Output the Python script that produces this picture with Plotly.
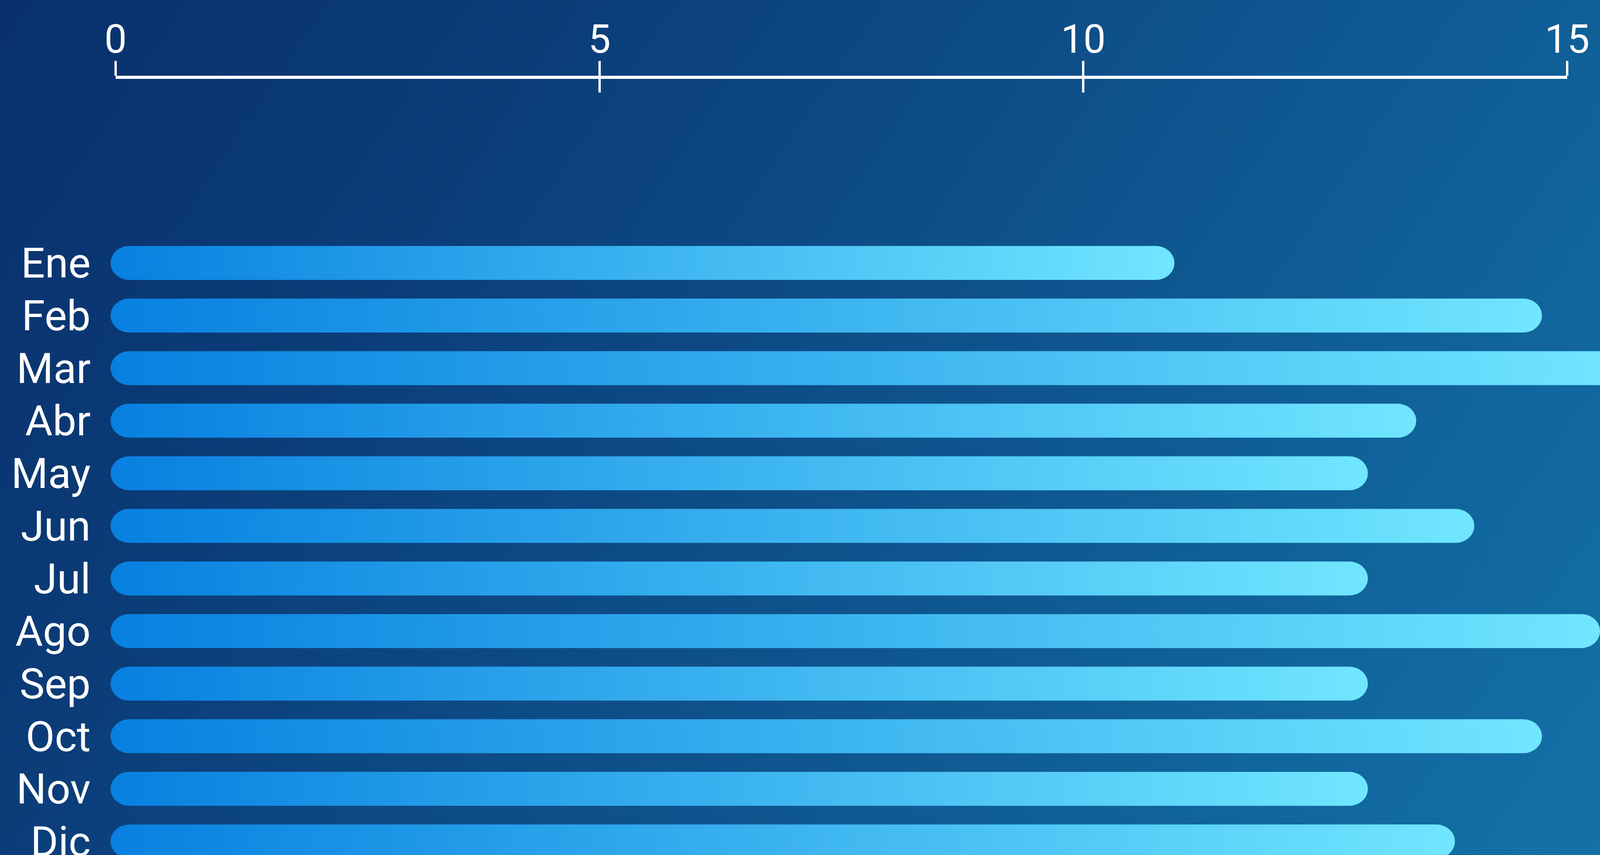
import base64
import numpy as np
import plotly.graph_objects as go

# ---------------- data ----------------
months = ["Ene", "Feb", "Mar", "Abr", "May", "Jun", "Jul", "Ago", "Sep", "Oct", "Nov", "Dic"]
values = [11, 14.8, 15.6, 13.5, 13, 14.1, 13, 15.4, 13, 14.8, 13, 13.9]
axis_ticks = [0, 5, 10, 15]

# ---------------- geometry / style ----------------
W, H = 4105, 2190
PX_PER_UNIT = 247.6          # horizontal pixels per value unit
BAR_ZERO_PX = 283            # pixel where the bars start
AXIS_ZERO_PX = 296           # pixel of tick "0" on the top axis
AXIS_END_PX = 4012           # pixel of tick "15"
AXIS_LINE_PX = 198           # vertical pixel of the top axis line
ROW_PITCH_PX = 134.7
FIRST_ROW_PX = 673.5
BAR_HEIGHT_PX = 87
CAP_RX_PX = 48

LABEL_FONT = "Roboto"
BAR_COLORS = [[0.0, "#0780e0"], [1.0, "#70e6ff"]]

y_top = -FIRST_ROW_PX / ROW_PITCH_PX
y_bottom = (H - FIRST_ROW_PX) / ROW_PITCH_PX
half_h = BAR_HEIGHT_PX / ROW_PITCH_PX / 2
rx = CAP_RX_PX / PX_PER_UNIT


def capsule(v, yc):
    t1 = np.linspace(np.pi / 2, 3 * np.pi / 2, 48)
    t2 = np.linspace(-np.pi / 2, np.pi / 2, 48)
    xs = np.concatenate([rx + rx * np.cos(t1), (v - rx) + rx * np.cos(t2)])
    ys = np.concatenate([yc + half_h * np.sin(t1), yc + half_h * np.sin(t2)])
    return np.append(xs, xs[0]), np.append(ys, ys[0])


fig = go.Figure()

for i, (m, v) in enumerate(zip(months, values)):
    xs, ys = capsule(v, i)
    fig.add_trace(go.Scatter(
        x=xs, y=ys, mode="lines", line=dict(width=0),
        fill="toself",
        fillgradient=dict(type="horizontal", colorscale=BAR_COLORS),
        hoverinfo="skip", showlegend=False, name=m,
        xaxis="x", yaxis="y",
    ))

# dummy traces so the decorative top axes are drawn
fig.add_trace(go.Scatter(x=[None], y=[None], xaxis="x2", yaxis="y", showlegend=False, hoverinfo="skip"))
fig.add_trace(go.Scatter(x=[None], y=[None], xaxis="x3", yaxis="y", showlegend=False, hoverinfo="skip"))

# background gradient as an SVG image
svg = (
    f'<svg xmlns="http://www.w3.org/2000/svg" width="{W}" height="{H}" viewBox="0 0 {W} {H}" '
    f'preserveAspectRatio="none"><defs><linearGradient id="g" gradientUnits="userSpaceOnUse" '
    f'x1="0" y1="0" x2="3845" y2="2594">'
    f'<stop offset="0" stop-color="#09306b"/>'
    f'<stop offset="0.26" stop-color="#0b3d79"/>'
    f'<stop offset="0.73" stop-color="#105f98"/>'
    f'<stop offset="1" stop-color="#1372a8"/>'
    f'</linearGradient></defs><rect width="{W}" height="{H}" fill="url(#g)"/></svg>'
)
bg_src = "data:image/svg+xml;base64," + base64.b64encode(svg.encode()).decode()

axis_pos = 1 - AXIS_LINE_PX / H

fig.update_layout(
    template="none",
    width=W, height=H,
    margin=dict(l=0, r=0, t=0, b=0, pad=0, autoexpand=False),
    paper_bgcolor="#0d4a86",
    plot_bgcolor="rgba(0,0,0,0)",
    showlegend=False,
    images=[dict(source=bg_src, xref="paper", yref="paper", x=0, y=1,
                 sizex=1, sizey=1, xanchor="left", yanchor="top",
                 sizing="stretch", layer="below")],
    xaxis=dict(domain=[BAR_ZERO_PX / W, 1], range=[0, (W - BAR_ZERO_PX) / PX_PER_UNIT],
               visible=False, fixedrange=True, automargin=False),
    yaxis=dict(domain=[0, 1], range=[y_bottom, y_top], anchor="x",
               tickmode="array", tickvals=list(range(len(months))), ticktext=months,
               tickfont=dict(family=LABEL_FONT, size=108, color="white"),
               ticks="", showgrid=False, zeroline=False, showline=False,
               ticklabelstandoff=50, ticklabeloverflow="allow", fixedrange=True,
               automargin=False),
    xaxis2=dict(domain=[AXIS_ZERO_PX / W, AXIS_END_PX / W], range=[0, 15],
                anchor="free", position=axis_pos, side="top",
                showline=True, linecolor="white", linewidth=8,
                ticks="outside", ticklen=38, tickwidth=6, tickcolor="white",
                tickmode="array", tickvals=axis_ticks,
                ticktext=[str(t) for t in axis_ticks],
                tickfont=dict(family=LABEL_FONT, size=102, color="white"),
                ticklabelstandoff=-20, ticklabeloverflow="allow",
                showgrid=False, zeroline=False, fixedrange=True, automargin=False),
    xaxis3=dict(overlaying="x2", range=[0, 15], anchor="free", position=axis_pos,
                side="top", ticks="inside", ticklen=38, tickwidth=6, tickcolor="white",
                tickmode="array", tickvals=axis_ticks, showticklabels=False,
                showline=False, showgrid=False, zeroline=False, fixedrange=True,
                automargin=False),
)

fig.write_html("out.html", config={"displayModeBar": False},
               post_script="document.body.style.margin='0';document.body.style.overflow='hidden';")
